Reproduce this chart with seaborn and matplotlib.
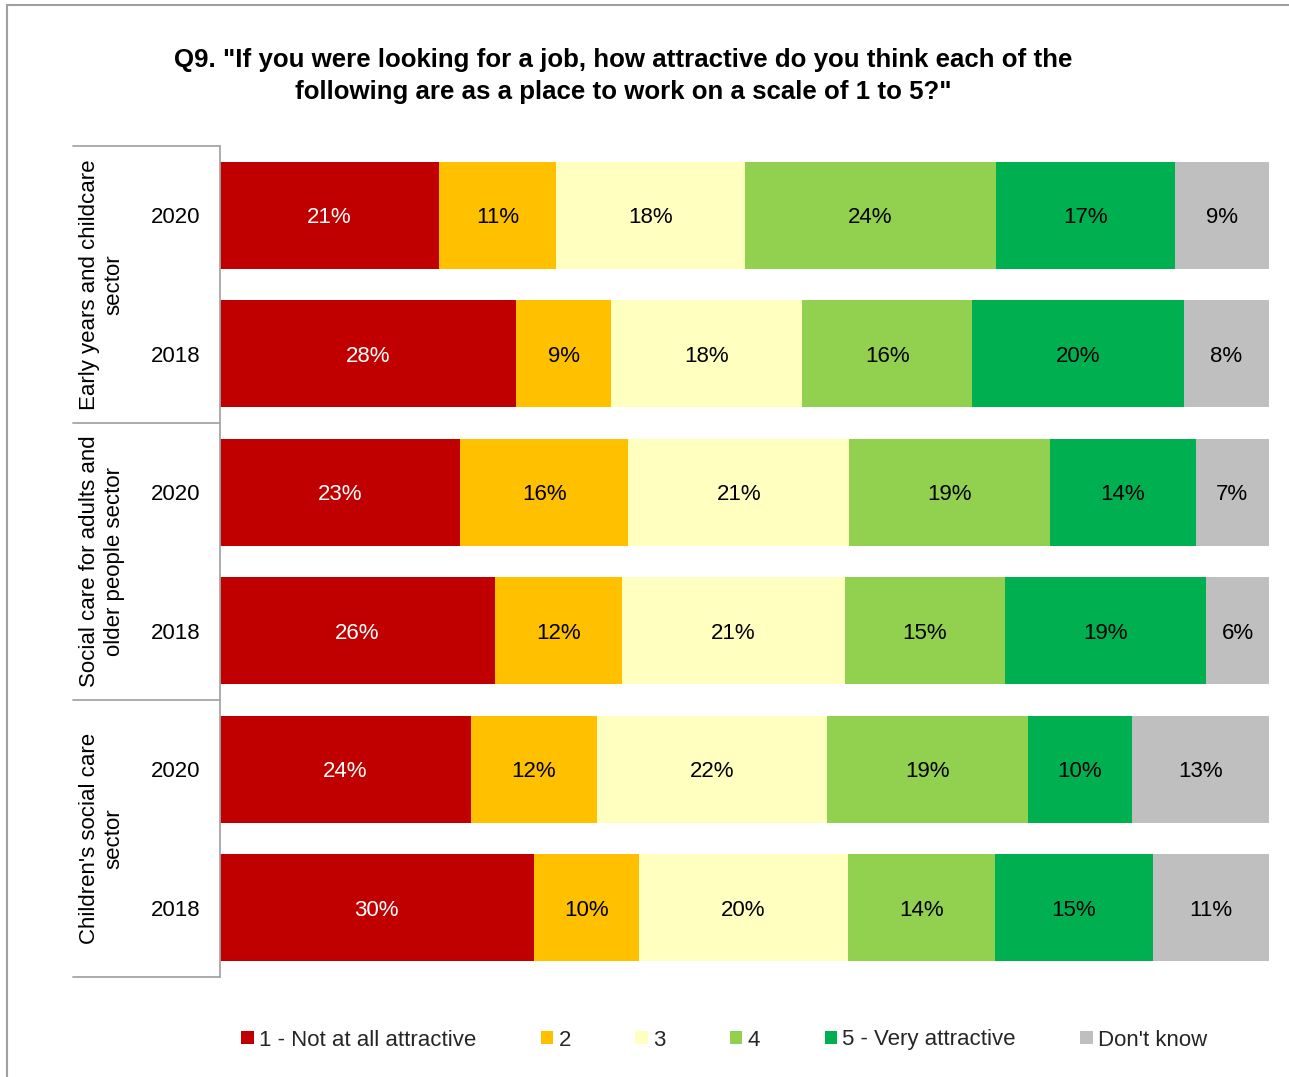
import matplotlib
matplotlib.use("Agg")
import pandas as pd
import matplotlib.pyplot as plt
from matplotlib.patches import Patch, Rectangle
import seaborn as sns

# sectors and survey years, top to bottom
sectors = ["Early years and childcare\nsector",
           "Social care for adults and\nolder people sector",
           "Children's social care\nsector"]
years = ["2020", "2018"]

categories = ["1 - Not at all attractive", "2", "3", "4", "5 - Very attractive", "Don't know"]
colors = ["#C00000", "#FFC000", "#FFFFC0", "#92D050", "#00B050", "#BFBFBF"]

# share of answers (%), rows in display order
not_at_all = [20.9, 28.2, 22.9, 26.2, 23.9, 29.9]
two = [11.1, 9.1, 16.0, 12.1, 12.0, 10.0]
three = [18.0, 18.2, 21.1, 21.3, 22.0, 20.0]
four = [24.0, 16.2, 19.1, 15.2, 19.1, 14.0]
very = [17.0, 20.2, 13.9, 19.2, 9.9, 15.0]
dont_know = [9.0, 8.1, 7.0, 6.0, 13.1, 11.1]

title = ('Q9. "If you were looking for a job, how attractive do you think each of the\n'
         'following are as a place to work on a scale of 1 to 5?"')

rows = [f"{i}-{y}" for i in range(len(sectors)) for y in years]
df = pd.DataFrame(dict(zip(categories, [not_at_all, two, three, four, very, dont_know])), index=rows)
cum = df.cumsum(axis=1)

sns.set_theme(style="white")
plt.rcParams["font.family"] = ["Liberation Sans", "DejaVu Sans"]

fig = plt.figure(figsize=(12.89, 10.77), dpi=100)
ax = fig.add_axes([220 / 1289, 1 - 977 / 1077, 1049 / 1289, 831 / 1077])

# stacked bars: draw cumulative totals from the widest down
for cat, col in reversed(list(zip(categories, colors))):
    sns.barplot(x=cum[cat].values, y=rows, order=rows, color=col, orient="h",
                width=0.77, saturation=1, linewidth=0, errorbar=None, ax=ax)

# segment labels
for i, r in enumerate(rows):
    left = 0
    for cat in categories:
        v = df.loc[r, cat]
        ax.text(left + v / 2, i, f"{v:.0f}%", ha="center", va="center_baseline", fontsize=16,
                color="white" if cat == categories[0] else "black")
        left += v

ax.set_xlim(0, 100)
ax.set_ylim(5.5, -0.5)
ax.set_xticks([])
ax.set_xlabel("")
ax.set_ylabel("")
ax.set_yticks(range(len(rows)))
ax.set_yticklabels(years * len(sectors))
ax.tick_params(axis="y", length=0, pad=14, labelsize=16, labelcolor="black")
for side in ["top", "right", "bottom"]:
    ax.spines[side].set_visible(False)
ax.spines["left"].set_color("#A6A6A6")
ax.spines["left"].set_linewidth(1.3)

# group brackets on the left
trans = ax.get_yaxis_transform()
for yb in [-0.5, 1.5, 3.5, 5.5]:
    ax.plot([-0.14, 0], [yb, yb], transform=trans, color="#A6A6A6", lw=1.3, clip_on=False)
for k, s in enumerate(sectors):
    ax.text(-0.1125, 2 * k + 0.5, s, transform=trans, rotation=90, ha="center", va="center",
            fontsize=16, multialignment="center", color="black")

fig.text(623 / 1289, 1 - 76 / 1077, title, ha="center", va="center", fontsize=18.6,
         fontweight="bold", linespacing=1.38, color="black")

handles = [Patch(facecolor=c, edgecolor="none", label=l) for l, c in zip(categories, colors)]
fig.legend(handles=handles, loc="center", bbox_to_anchor=(0.562, 1 - 1040 / 1077), ncol=6,
           frameon=False, fontsize=16, handlelength=0.55, handleheight=0.55,
           handletextpad=0.25, columnspacing=2.9)

# outer frame (left and top edges visible)
fig.add_artist(Rectangle((7 / 1289, -0.05), 1.1, 1 - 5 / 1077 + 0.05, transform=fig.transFigure,
                         fill=False, edgecolor="#A0A0A0", lw=1.5))

fig.savefig("out.png", dpi=100)
